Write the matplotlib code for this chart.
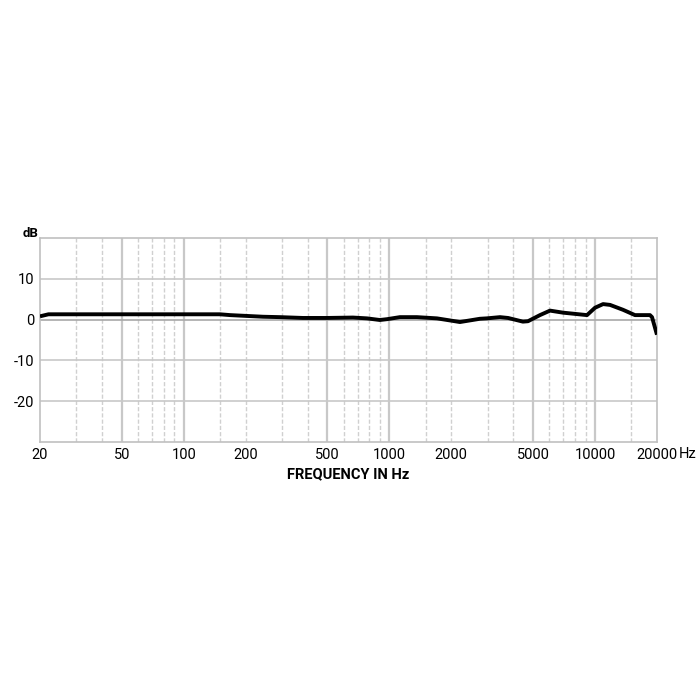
import matplotlib
matplotlib.use('Agg')
import matplotlib.pyplot as plt

# frequency response
freq = [20, 22, 25, 40, 80, 150, 168, 243, 294, 380, 497, 665, 778, 899, 973, 1125,
        1361, 1703, 1968, 2203, 2755, 2972, 3451, 3776, 4459, 4720, 5397, 6040, 6984,
        8730, 9140, 9995, 10940, 11830, 13680, 15640, 18500, 18930, 20000]
db = [0.8, 1.3, 1.3, 1.3, 1.3, 1.3, 1.1, 0.7, 0.6, 0.4, 0.4, 0.5, 0.3, -0.1, 0.1, 0.6,
      0.6, 0.3, -0.2, -0.6, 0.2, 0.3, 0.6, 0.4, -0.5, -0.4, 1.1, 2.2, 1.7,
      1.2, 1.1, 2.9, 3.8, 3.6, 2.4, 1.1, 1.1, 0.6, -3.7]

xticks = [20, 50, 100, 200, 500, 1000, 2000, 5000, 10000, 20000]
yticks = [10, 0, -10, -20]
solid_grid = [50, 100, 500, 1000, 5000, 10000]
dashed_grid = [30, 40, 60, 70, 80, 90, 150, 200, 300, 400, 600, 700, 800, 900,
               1500, 2000, 3000, 4000, 6000, 7000, 8000, 9000, 15000]

plt.rcParams['font.family'] = ['Roboto', 'DejaVu Sans']
plt.rcParams['axes.unicode_minus'] = False

fig = plt.figure(figsize=(7, 7), dpi=100)
ax = fig.add_axes([0.0571, 0.3686, 0.8814, 0.2914])
ax.set_xscale('log')
ax.set_xlim(20, 20000)
ax.set_ylim(-30, 20)

for f in solid_grid:
    ax.axvline(f, color='#c8c8c8', lw=1.6, zorder=1)
for f in dashed_grid:
    ax.axvline(f, color='#d0d0d0', lw=1.0, ls=(0, (3, 1.5)), zorder=1)
for y in yticks:
    ax.axhline(y, color='#a8a8a8' if y == 0 else '#c8c8c8', lw=1.2, zorder=1)

ax.plot(freq, db, color='black', lw=2.8, zorder=3, solid_capstyle='butt',
        solid_joinstyle='round')

ax.set_xticks(xticks)
ax.set_xticklabels([str(t) for t in xticks])
ax.minorticks_off()
ax.set_yticks(yticks)
ax.tick_params(length=0, labelsize=10.5, pad=4)
for s in ax.spines.values():
    s.set_color('#c0c0c0')
    s.set_linewidth(1.2)

ax.text(1.036, -0.027, 'Hz', transform=ax.transAxes, fontsize=10.5, ha='left', va='top')
ax.text(-0.003, 1.02, 'dB', transform=ax.transAxes, fontsize=9.5, fontweight='bold',
        ha='right', va='center')
ax.set_xlabel('FREQUENCY IN Hz', fontsize=10.5, fontweight='bold', labelpad=4)

fig.savefig('out.png', dpi=100)
